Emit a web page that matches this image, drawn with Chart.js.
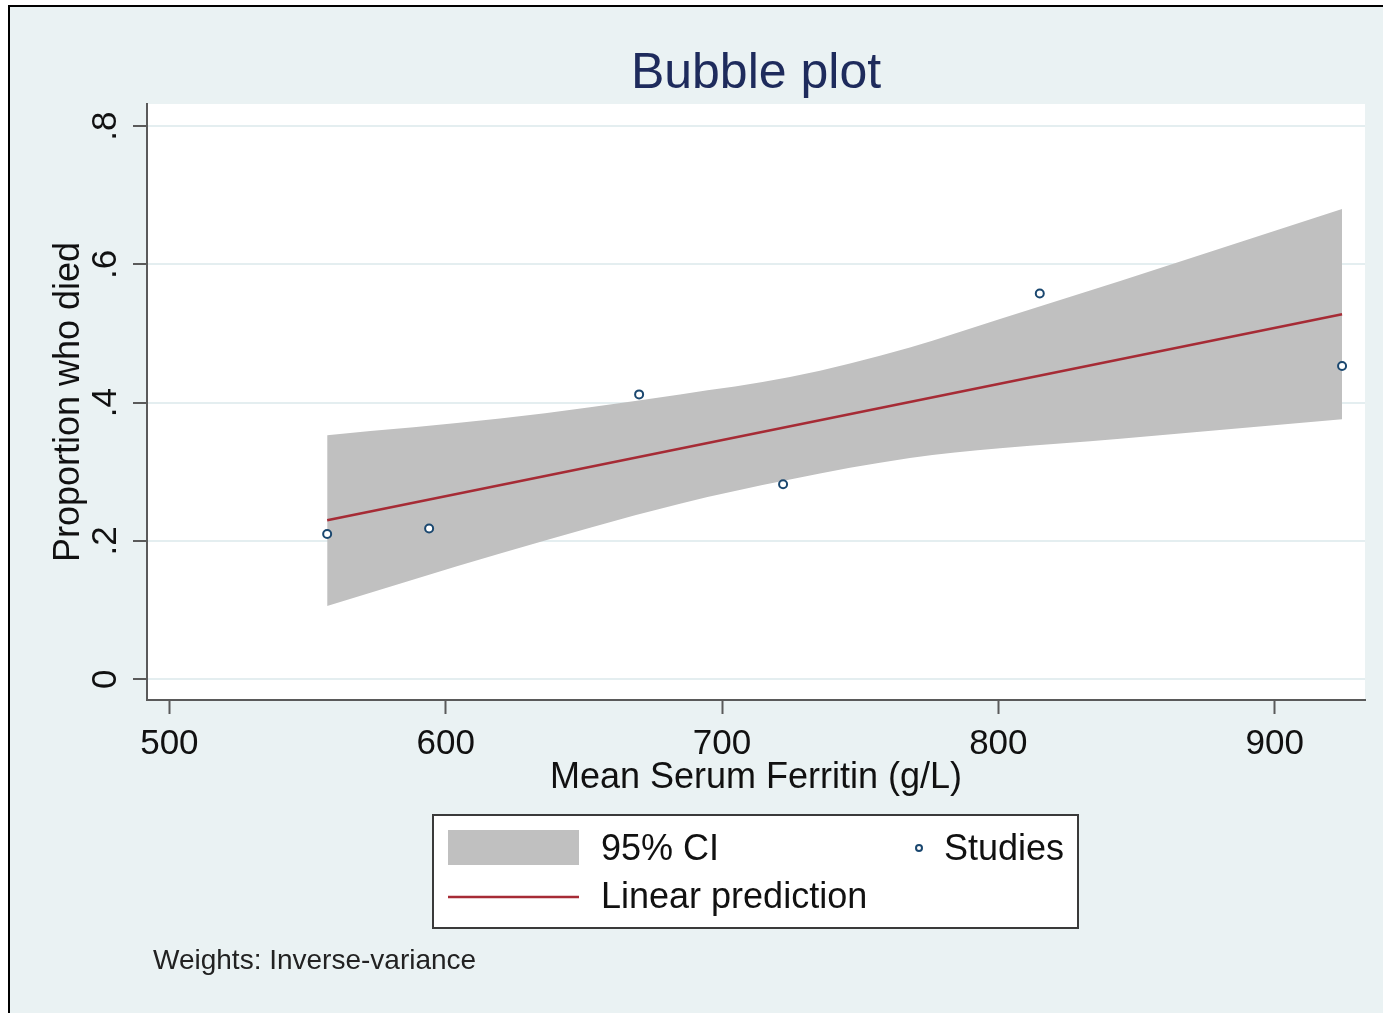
<!DOCTYPE html>
<html>
<head>
<meta charset="utf-8">
<title>Bubble plot</title>
<script src="https://cdn.jsdelivr.net/npm/chart.js@4.4.1/dist/chart.umd.min.js"></script>
<style>
  html, body { margin: 0; padding: 0; background: #fff; overflow: hidden; }
  canvas { display: block; }
</style>
</head>
<body>
<canvas id="chart" width="1383" height="1013"></canvas>
<script>
// study-level estimates (mean serum ferritin vs proportion who died)
const studyX = [557.1, 594.0, 670.0, 722.1, 815.0, 924.4];
const studyY = [0.210, 0.218, 0.412, 0.282, 0.558, 0.453];

// fitted meta-regression line
const fitX = [557.1, 924.4];
const fitY = [0.230, 0.528];

// 95% confidence band around the fit
const ciX = [557.1, 619.7, 684.8, 724.6, 768.0, 800.6, 844.1, 924.4];
const ciUpper = [0.353, 0.377, 0.412, 0.437, 0.480, 0.521, 0.576, 0.680];
const ciLower = [0.106, 0.182, 0.254, 0.289, 0.320, 0.334, 0.348, 0.376];

const xTicks = [500, 600, 700, 800, 900];
const yTicks = [0, 0.2, 0.4, 0.6, 0.8];
const yTickLabels = ["0", ".2", ".4", ".6", ".8"];

const BG = "#EAF2F3";
const AXIS = "#5a5a5a";
const INK = "#111";
const NAVY = "#1A476F";
const MAROON = "#A62B35";
const BAND = "#C0C0C0";

Chart.defaults.font.family = "'Liberation Sans', Arial, sans-serif";

const toPts = (xs, ys) => xs.map((x, i) => ({ x: x, y: ys[i] }));

// page background, frame and white plot region
const backdrop = {
  id: "backdrop",
  beforeDraw(chart) {
    const { ctx, width, height, chartArea } = chart;
    ctx.save();
    ctx.fillStyle = "#fff";
    ctx.fillRect(0, 0, width, height);
    ctx.fillStyle = "#000";
    ctx.fillRect(8, 5, width, height);
    ctx.fillStyle = BG;
    ctx.fillRect(10, 7, width, height);
    ctx.fillStyle = "#fff";
    ctx.fillRect(chartArea.left, chartArea.top,
      chartArea.right - chartArea.left, chartArea.bottom - chartArea.top);
    ctx.restore();
  }
};

// boxed legend below the x axis plus the weights note
const boxLegend = {
  id: "boxLegend",
  afterDraw(chart) {
    const { ctx } = chart;
    const ds = chart.data.datasets;
    const band = ds.find(d => d.id === "ciUpper");
    const fit = ds.find(d => d.id === "fit");
    const pts = ds.find(d => d.id === "studies");
    ctx.save();

    ctx.fillStyle = "#fff";
    ctx.fillRect(433, 815, 645, 113);
    ctx.strokeStyle = "#3a3a3a";
    ctx.lineWidth = 2;
    ctx.strokeRect(433, 815, 645, 113);

    ctx.fillStyle = band.backgroundColor;
    ctx.fillRect(448, 830, 131, 35);

    ctx.strokeStyle = fit.borderColor;
    ctx.lineWidth = 2.5;
    ctx.beginPath();
    ctx.moveTo(448, 897);
    ctx.lineTo(579, 897);
    ctx.stroke();

    ctx.strokeStyle = pts.pointBorderColor;
    ctx.fillStyle = "#fff";
    ctx.lineWidth = 2;
    ctx.beginPath();
    ctx.arc(919, 848, 3, 0, Math.PI * 2);
    ctx.fill();
    ctx.stroke();

    ctx.fillStyle = INK;
    ctx.font = "36px 'Liberation Sans', Arial, sans-serif";
    ctx.textBaseline = "middle";
    ctx.textAlign = "left";
    ctx.fillText(band.label, 601, 850);
    ctx.fillText(fit.label, 601, 898);
    ctx.fillText(pts.label, 944, 850);

    ctx.fillStyle = "#222";
    ctx.font = "28px 'Liberation Sans', Arial, sans-serif";
    ctx.fillText("Weights: Inverse-variance", 153, 961);
    ctx.restore();
  }
};

new Chart(document.getElementById("chart"), {
  type: "line",
  data: {
    datasets: [
      {
        id: "studies",
        label: "Studies",
        data: toPts(studyX, studyY),
        showLine: false,
        pointStyle: "circle",
        pointRadius: 4,
        pointBorderWidth: 2,
        pointBorderColor: NAVY,
        pointBackgroundColor: "#fff",
        order: 0
      },
      {
        id: "fit",
        label: "Linear prediction",
        data: toPts(fitX, fitY),
        borderColor: MAROON,
        borderWidth: 2.5,
        pointRadius: 0,
        fill: false,
        order: 1
      },
      {
        id: "ciUpper",
        label: "95% CI",
        data: toPts(ciX, ciUpper),
        borderWidth: 0,
        borderColor: BAND,
        backgroundColor: BAND,
        pointRadius: 0,
        cubicInterpolationMode: "monotone",
        fill: "+1",
        order: 2
      },
      {
        id: "ciLower",
        label: "",
        data: toPts(ciX, ciLower),
        borderWidth: 0,
        borderColor: BAND,
        backgroundColor: BAND,
        pointRadius: 0,
        cubicInterpolationMode: "monotone",
        fill: false,
        order: 3
      }
    ]
  },
  options: {
    responsive: false,
    animation: false,
    devicePixelRatio: 1,
    layout: { padding: { left: 0, right: 18, top: 0, bottom: 213 } },
    plugins: {
      legend: { display: false },
      tooltip: { enabled: false },
      title: {
        display: true,
        text: "Bubble plot",
        fullSize: false,
        color: "#1E2B5C",
        font: { size: 50, weight: "normal" },
        padding: { top: 44, bottom: 0 }
      }
    },
    scales: {
      x: {
        type: "linear",
        min: 491.9,
        max: 932.7,
        afterBuildTicks: s => { s.ticks = xTicks.map(v => ({ value: v })); },
        afterFit: s => { s.height = 100; },
        ticks: {
          autoSkip: false, minRotation: 0, maxRotation: 0,
          padding: 9, color: INK, font: { size: 35 }
        },
        grid: { drawOnChartArea: false, tickLength: 14, tickColor: AXIS, tickWidth: 2 },
        border: { color: AXIS, width: 2 },
        title: {
          display: true,
          text: "Mean Serum Ferritin (g/L)",
          color: INK,
          font: { size: 36 },
          padding: { top: 0, bottom: 0 }
        }
      },
      y: {
        type: "linear",
        min: -0.030,
        max: 0.832,
        afterBuildTicks: s => { s.ticks = yTicks.map(v => ({ value: v })); },
        afterFit: s => { s.width = 147; },
        ticks: {
          autoSkip: false, minRotation: 90, maxRotation: 90,
          crossAlign: "center", padding: 12, color: INK, font: { size: 35 },
          callback: v => yTickLabels[yTicks.findIndex(t => Math.abs(t - v) < 1e-9)]
        },
        grid: { color: "#E4EEF0", lineWidth: 2, tickLength: 14, tickColor: AXIS, tickWidth: 2 },
        border: { color: AXIS, width: 2 },
        title: {
          display: true,
          text: "Proportion who died",
          color: INK,
          font: { size: 36 },
          padding: { top: 47, bottom: 0 }
        }
      }
    }
  },
  plugins: [backdrop, boxLegend]
});
</script>
</body>
</html>
